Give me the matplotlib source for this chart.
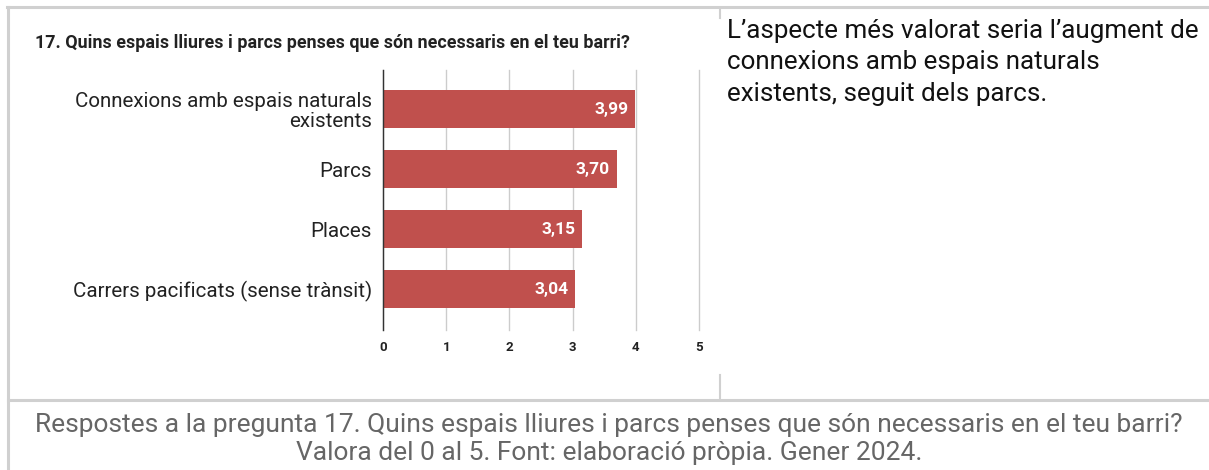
import matplotlib.pyplot as plt
from matplotlib.lines import Line2D

plt.rcParams['font.family'] = ['Roboto', 'DejaVu Sans']

categories = ["Connexions amb espais naturals\nexistents", "Parcs", "Places",
              "Carrers pacificats (sense trànsit)"]
values = [3.99, 3.70, 3.15, 3.04]
xticks = [0, 1, 2, 3, 4, 5]

title = "17. Quins espais lliures i parcs penses que són necessaris en el teu barri?"
side_text = ("L’aspecte més valorat seria l’augment de\n"
             "connexions amb espais naturals\n"
             "existents, seguit dels parcs.")
caption = ("Respostes a la pregunta 17. Quins espais lliures i parcs penses que són necessaris en el teu barri?\n"
           "Valora del 0 al 5. Font: elaboració pròpia. Gener 2024.")

W, H = 1209, 470
fig = plt.figure(figsize=(W / 100, H / 100), dpi=100)


def fx(px):
    return px / W


def fy(py):
    return 1 - py / H


# axes placed in pixel terms
ax = fig.add_axes([fx(383), fy(330), fx(699) - fx(383), fy(70) - fy(330)])
pos = list(range(len(categories)))
ax.barh(pos, values, height=0.63, color='#c0504d', zorder=3)
for p, v in zip(pos, values):
    ax.annotate(f"{v:.2f}".replace('.', ','), xy=(v, p), xytext=(-5, 0),
                textcoords='offset points', ha='right', va='center',
                color='white', fontsize=12.5, fontweight='bold', zorder=4)

ax.set_xlim(0, 5)
ax.set_ylim(3.68, -0.65)
ax.set_yticks(pos)
ax.set_yticklabels(categories, fontsize=14.8, color='#222222', linespacing=1.05)
for lab in ax.get_yticklabels():
    lab.set_multialignment('right')
ax.set_xticks(xticks)
ax.set_xticklabels([str(t) for t in xticks], fontsize=9.5, fontweight='bold', color='#222222')
ax.tick_params(axis='y', length=0, pad=8)
ax.tick_params(axis='x', length=0, pad=8)
ax.grid(axis='x', color='#cccccc', linewidth=1, zorder=0)
for gl in ax.get_xgridlines():
    gl.set_clip_on(False)
for s in ['top', 'right', 'bottom']:
    ax.spines[s].set_visible(False)
ax.spines['left'].set_color('#333333')
ax.spines['left'].set_linewidth(1)
ax.spines['left'].set_zorder(5)

fig.text(fx(35), fy(43), title, fontsize=12.9, fontweight='bold', color='#222222',
         ha='left', va='center')
fig.text(fx(727), fy(19), side_text, fontsize=18.7, color='#111111',
         ha='left', va='top', linespacing=1.39)
fig.text(fx(609), fy(439), caption, fontsize=19.0, color='#666666',
         ha='center', va='center', linespacing=1.18)

# table borders
grey = '#d0d0d0'
fig.add_artist(Line2D([fx(7), fx(W)], [fy(7), fy(7)], color=grey, linewidth=2.2))
fig.add_artist(Line2D([fx(8), fx(8)], [fy(7), fy(H)], color=grey, linewidth=2.2))
fig.add_artist(Line2D([fx(8), fx(W)], [fy(400), fy(400)], color=grey, linewidth=2.2))
fig.add_artist(Line2D([fx(720), fx(720)], [fy(375), fy(400)], color=grey, linewidth=1.5))
fig.add_artist(Line2D([fx(720), fx(720)], [fy(8), fy(18)], color=grey, linewidth=1.5))

fig.savefig('out.png', dpi=100)
